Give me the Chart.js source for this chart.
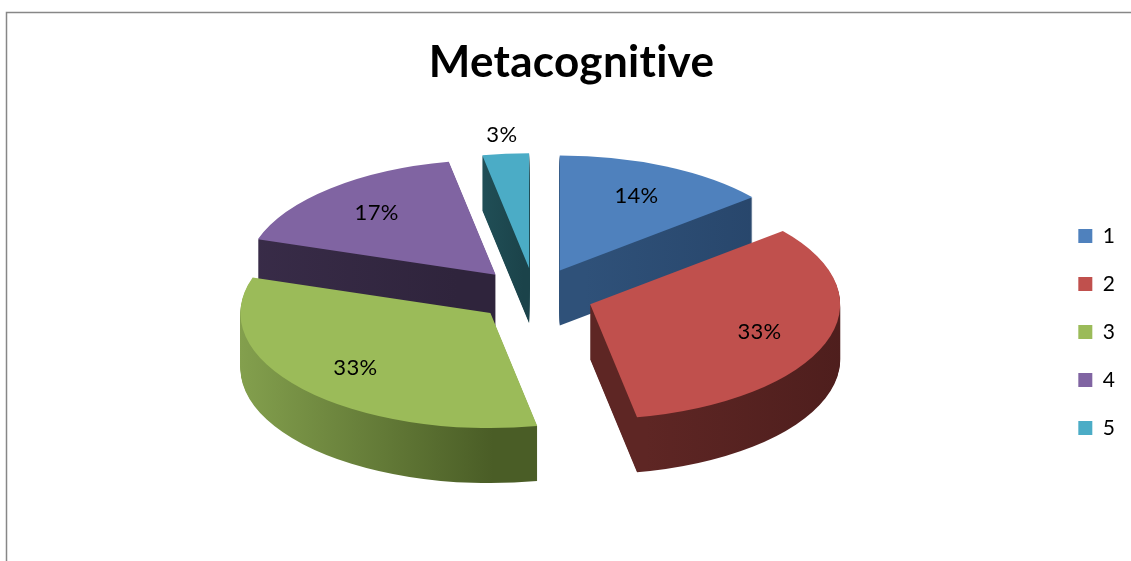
<!DOCTYPE html>
<html>
<head>
<meta charset="utf-8">
<title>Metacognitive</title>
<script src="https://cdn.jsdelivr.net/npm/chart.js@4.4.1/dist/chart.umd.min.js"></script>
<style>
  html, body { margin: 0; padding: 0; background: #fff; }
  #wrap { position: relative; width: 1131px; height: 561px; }
</style>
</head>
<body>
<div id="wrap"><canvas id="chartMeta"></canvas></div>
<script>
// --- DATA ---
const categories = ["1", "2", "3", "4", "5"];
const shares = [14, 33, 33, 17, 3]; // percent of answers

// --- STYLE ---
const topColors = ["#4F81BD", "#C0504D", "#9BBB59", "#8064A2", "#4BACC6"];
const sideColors = [
  ["#2f5179", "#27456a"],
  ["#5e2624", "#4a1c1b"],
  ["#8dab54", "#4a5d26"],
  ["#3a2d4a", "#2f243c"],
  ["#215058", "#1b434a"],
];
const TILT = 0.46;    // vertical squash of the disc
const DEPTH = 55;     // disc thickness, px
const EXPLODE = 59;   // how far every slice is pulled out

function midAngle(arc) {
  return (arc.startAngle + arc.endAngle) / 2;
}

// horizontal extent of a slice, relative to the pie centre
function sliceSpan(arc) {
  const xs = [0];
  for (let k = 0; k <= 24; k++) {
    const a = arc.startAngle + ((arc.endAngle - arc.startAngle) * k) / 24;
    xs.push(Math.cos(a) * arc.outerRadius);
  }
  return [Math.min(...xs), Math.max(...xs)];
}

// pie drawn as a tilted, exploded disc with a visible side wall
class Pie3DController extends Chart.PieController {
  draw() {
    const ctx = this.chart.ctx;
    const arcs = this._cachedMeta.data;
    if (!arcs.length) return;
    const cy = arcs[0].y;

    // paint back slices first
    const order = arcs
      .map((a, i) => i)
      .sort((p, q) => Math.sin(midAngle(arcs[p])) - Math.sin(midAngle(arcs[q])));

    ctx.save();
    ctx.translate(0, cy);
    ctx.scale(1, TILT);
    ctx.translate(0, -cy);

    order.forEach((i) => {
      const arc = arcs[i];
      const a = midAngle(arc);
      const dx = Math.cos(a) * EXPLODE;
      const dy = Math.sin(a) * EXPLODE;
      const topOptions = arc.options;

      const span = sliceSpan(arc);
      const grad = ctx.createLinearGradient(arc.x + dx + span[0], 0, arc.x + dx + span[1], 0);
      grad.addColorStop(0, sideColors[i][0]);
      grad.addColorStop(1, sideColors[i][1]);

      // side wall: the slice stacked downwards in the darker shade
      arc.options = Object.assign({}, topOptions, { backgroundColor: grad, borderColor: grad });
      for (let d = DEPTH; d > 0; d--) {
        ctx.save();
        ctx.translate(dx, dy + d / TILT);
        arc.draw(ctx);
        ctx.restore();
      }
      arc.options = topOptions;

      // top face
      ctx.save();
      ctx.translate(dx, dy);
      arc.draw(ctx);
      ctx.restore();
    });

    ctx.restore();
  }
}
Pie3DController.id = "pie3d";
Pie3DController.defaults = Chart.PieController.defaults;
Chart.register(Pie3DController);

// --- PERCENT LABELS ---
const pieLabels = {
  id: "pieLabels",
  afterDatasetsDraw(chart) {
    const ctx = chart.ctx;
    const meta = chart.getDatasetMeta(0);
    const values = chart.data.datasets[0].data;
    ctx.save();
    ctx.font = "22px Lato";
    ctx.fillStyle = "#000";
    ctx.textAlign = "center";
    ctx.textBaseline = "middle";
    meta.data.forEach((arc, i) => {
      const a = midAngle(arc);
      // thin slices get their label outside the disc
      const r = values[i] < 5 ? arc.outerRadius * 1.16 : arc.outerRadius * 0.72;
      const d = r + EXPLODE;
      const x = arc.x + Math.cos(a) * d;
      const y = arc.y + Math.sin(a) * d * TILT;
      ctx.fillText(values[i] + "%", x, y);
    });
    ctx.restore();
  },
};

// --- CHART FRAME ---
const chartFrame = {
  id: "chartFrame",
  beforeDraw(chart) {
    const ctx = chart.ctx;
    // a little tracking keeps Lato from joining "ti"
    ctx.letterSpacing = "0.3px";
    ctx.save();
    ctx.strokeStyle = "#878787";
    ctx.lineWidth = 1.5;
    ctx.beginPath();
    ctx.moveTo(6.5, chart.height);
    ctx.lineTo(6.5, 12.5);
    ctx.lineTo(chart.width, 12.5);
    ctx.stroke();
    ctx.restore();
  },
};

const ctx = document.getElementById("chartMeta").getContext("2d");
const chartMeta = new Chart(ctx, {
  type: "pie3d",
  data: {
    labels: categories,
    datasets: [
      {
        data: shares,
        backgroundColor: topColors,
        borderWidth: 0,
        radius: 250,
        clip: false,
      },
    ],
  },
  options: {
    responsive: true,
    maintainAspectRatio: false,
    animation: false,
    layout: { padding: { left: 18, right: 6, top: 0, bottom: 95.5 } },
    plugins: {
      title: {
        display: true,
        text: "Metacognitive",
        color: "#000",
        font: { family: "Lato", size: 44, weight: "bold" },
        padding: { top: 36, bottom: 36 },
      },
      legend: {
        position: "right",
        align: "end",
        labels: {
          boxWidth: 14,
          boxHeight: 14,
          padding: 27,
          color: "#000",
          font: { family: "Lato", size: 21 },
        },
      },
      tooltip: { enabled: false },
    },
  },
  plugins: [chartFrame, pieLabels],
});
</script>
</body>
</html>
